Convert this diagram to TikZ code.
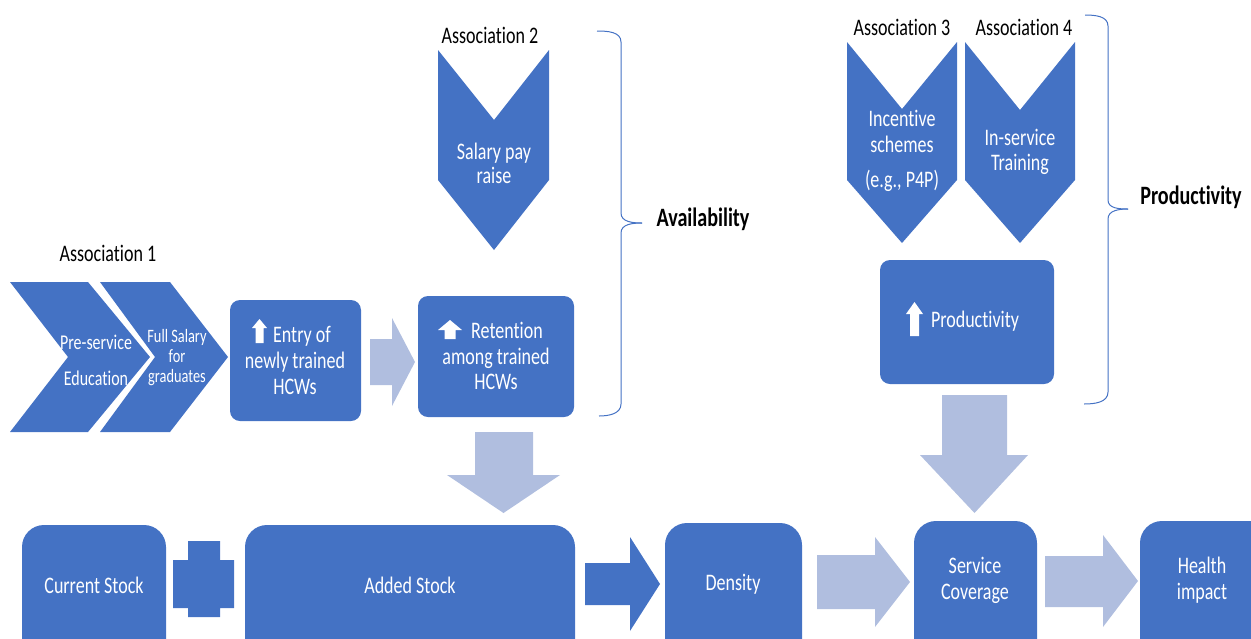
\documentclass[tikz,border=0pt]{standalone}
\usepackage{fontspec}
\setmainfont{Carlito}[FakeStretch=0.76, Ligatures=NoCommon]
\definecolor{dblue}{HTML}{4472C4}
\definecolor{lblue}{HTML}{B0BEDF}
\begin{document}
\begin{tikzpicture}[x=1pt,y=-1pt,
  box/.style={fill=dblue, draw=none, rounded corners=10pt, inner sep=0pt},
  bigbox/.style={box, rounded corners=22pt},
  chev/.style={fill=dblue, draw=none},
  larrow/.style={fill=lblue, draw=none},
  darrow/.style={fill=dblue, draw=none},
  wtxt/.style={text=white, align=center, inner sep=0pt, font=\fontsize{23.7}{26}\selectfont},
  btxt/.style={text=black, align=center, inner sep=0pt, font=\fontsize{23.7}{26}\selectfont},
  brtxt/.style={text=black, inner sep=0pt, font=\fontsize{26.5}{28}\selectfont\bfseries},
  brace/.style={draw=dblue, line width=1pt}]
\useasboundingbox (0,0) rectangle (1251,638);
\clip (0,0) rectangle (1251,638);

% ---------- chevrons (Association 1) ----------
\fill[chev] (10,282) -- (88,282) -- (150,357) -- (88,432) -- (10,432) -- (68,357) -- cycle;
\fill[chev] (100,282) -- (170,282) -- (228,357) -- (170,432) -- (100,432) -- (155,357) -- cycle;
\node[wtxt, font=\fontsize{21}{36}\selectfont] (pre) at (96,360) {Pre-service\\Education};
\node[wtxt, font=\fontsize{18.9}{20}\selectfont] (full) at (177,358) {Full Salary\\for\\graduates};
\node[btxt] (ass1) at (108,253) {Association 1};

% ---------- Association 2 chevron ----------
\fill[chev] (438,50) -- (494,120) -- (549,50) -- (549,180) -- (494,250) -- (438,180) -- cycle;
\node[wtxt, font=\fontsize{23.7}{24}\selectfont] (sal) at (494,163) {Salary pay\\raise};
\node[btxt] (ass2) at (490,35) {Association 2};

% ---------- Association 3 / 4 chevrons ----------
\fill[chev] (847,42) -- (902,109) -- (957,42) -- (957,180) -- (902,243) -- (847,180) -- cycle;
\fill[chev] (965,42) -- (1020,110) -- (1075,42) -- (1075,180) -- (1020,243) -- (965,180) -- cycle;
\node[wtxt] (inc) at (902,151) {Incentive\\schemes\\[9pt](e.g., P4P)};
\node[wtxt, font=\fontsize{23.7}{25}\selectfont] (ins) at (1020,152) {In-service\\Training};
\node[btxt] (ass3) at (902,27) {Association 3};
\node[btxt] (ass4) at (1024,27) {Association 4};

% ---------- middle boxes ----------
\node[box, minimum width=131pt, minimum height=121pt] (entry) at (295.5,360.5) {};
\node[wtxt] (entrytxt) at (295,360) {\hspace*{14pt}Entry of\\newly trained\\HCWs};
\fill[white, shift={(259.5,319)}] (0,0) -- (7.5,9) -- (4,9) -- (4,24) -- (-4,24) -- (-4,9) -- (-7.5,9) -- cycle;

\node[box, minimum width=156pt, minimum height=121pt] (ret) at (496,356.5) {};
\node[wtxt, font=\fontsize{23.7}{25.5}\selectfont] (rettxt) at (496,356) {\hspace*{22pt}Retention\\among trained\\HCWs};
\fill[white, shift={(450,320)}] (0,0) -- (12,10) -- (5.5,10) -- (5.5,19) -- (-5.5,19) -- (-5.5,10) -- (-12,10) -- cycle;

\node[box, minimum width=174pt, minimum height=124pt] (prod) at (967,322) {};
\node[wtxt] (prodtxt) at (975,321) {Productivity};
\fill[white, shift={(914.5,302)}] (0,0) -- (8.5,12) -- (4.5,12) -- (4.5,34) -- (-4.5,34) -- (-4.5,12) -- (-8.5,12) -- cycle;

% ---------- light arrows ----------
\fill[larrow] (370,339) -- (392,339) -- (392,318) -- (415,362) -- (392,406) -- (392,385) -- (370,385) -- cycle;
\fill[larrow] (475,432) -- (533,432) -- (533,475) -- (560,475) -- (503.5,513) -- (447,475) -- (475,475) -- cycle;
\fill[larrow] (942,395) -- (1007,395) -- (1007,455) -- (1028,455) -- (974.5,513) -- (920,455) -- (942,455) -- cycle;
\fill[larrow] (817,555) -- (875,555) -- (875,537) -- (910,582) -- (875,627) -- (875,609) -- (817,609) -- cycle;
\fill[larrow] (1045,556) -- (1103,556) -- (1103,535) -- (1138,581) -- (1103,627) -- (1103,607) -- (1045,607) -- cycle;

% ---------- bottom row ----------
\node[bigbox, minimum width=144pt, minimum height=140pt] (cs) at (94,595) {};
\node[wtxt] (cstxt) at (94,585) {Current Stock};
\fill[darrow] (188,541) -- (220,541) -- (220,560) -- (234,560) -- (234,608) -- (220,608) -- (220,617) -- (188,617) -- (188,608) -- (173,608) -- (173,560) -- (188,560) -- cycle;
\node[bigbox, minimum width=330pt, minimum height=140pt] (as) at (410,595) {};
\node[wtxt] (astxt) at (410,585) {Added Stock};
\fill[darrow] (585,563) -- (630,563) -- (630,537) -- (660,584) -- (630,631) -- (630,605) -- (585,605) -- cycle;
\node[bigbox, minimum width=137pt, minimum height=142pt] (dens) at (733.5,594) {};
\node[wtxt] (denstxt) at (733,584) {Density};
\node[bigbox, minimum width=123pt, minimum height=144pt] (sc) at (975.5,593) {};
\node[wtxt] (sctxt) at (975,580) {Service\\Coverage};
\node[bigbox, minimum width=150pt, minimum height=144pt] (hi) at (1215,593) {};
\node[wtxt] (hitxt) at (1202,580) {Health\\impact};

% ---------- braces ----------
\draw[brace] (597,31) to[out=0,in=90] (621,42) -- (621,213) to[out=-90,in=180] (642,223);
\draw[brace] (642,223) to[out=180,in=90] (621,233) -- (621,404) to[out=-90,in=0] (599,416);
\node[brtxt] (avail) at (703,219) {Availability};

\draw[brace] (1085,15) to[out=0,in=90] (1108,26) -- (1108,200) to[out=-90,in=180] (1128,209);
\draw[brace] (1128,209) to[out=180,in=90] (1108,219) -- (1108,392) to[out=-90,in=0] (1084,404);
\node[brtxt] (prodlab) at (1191,197) {Productivity};
\end{tikzpicture}
\end{document}
